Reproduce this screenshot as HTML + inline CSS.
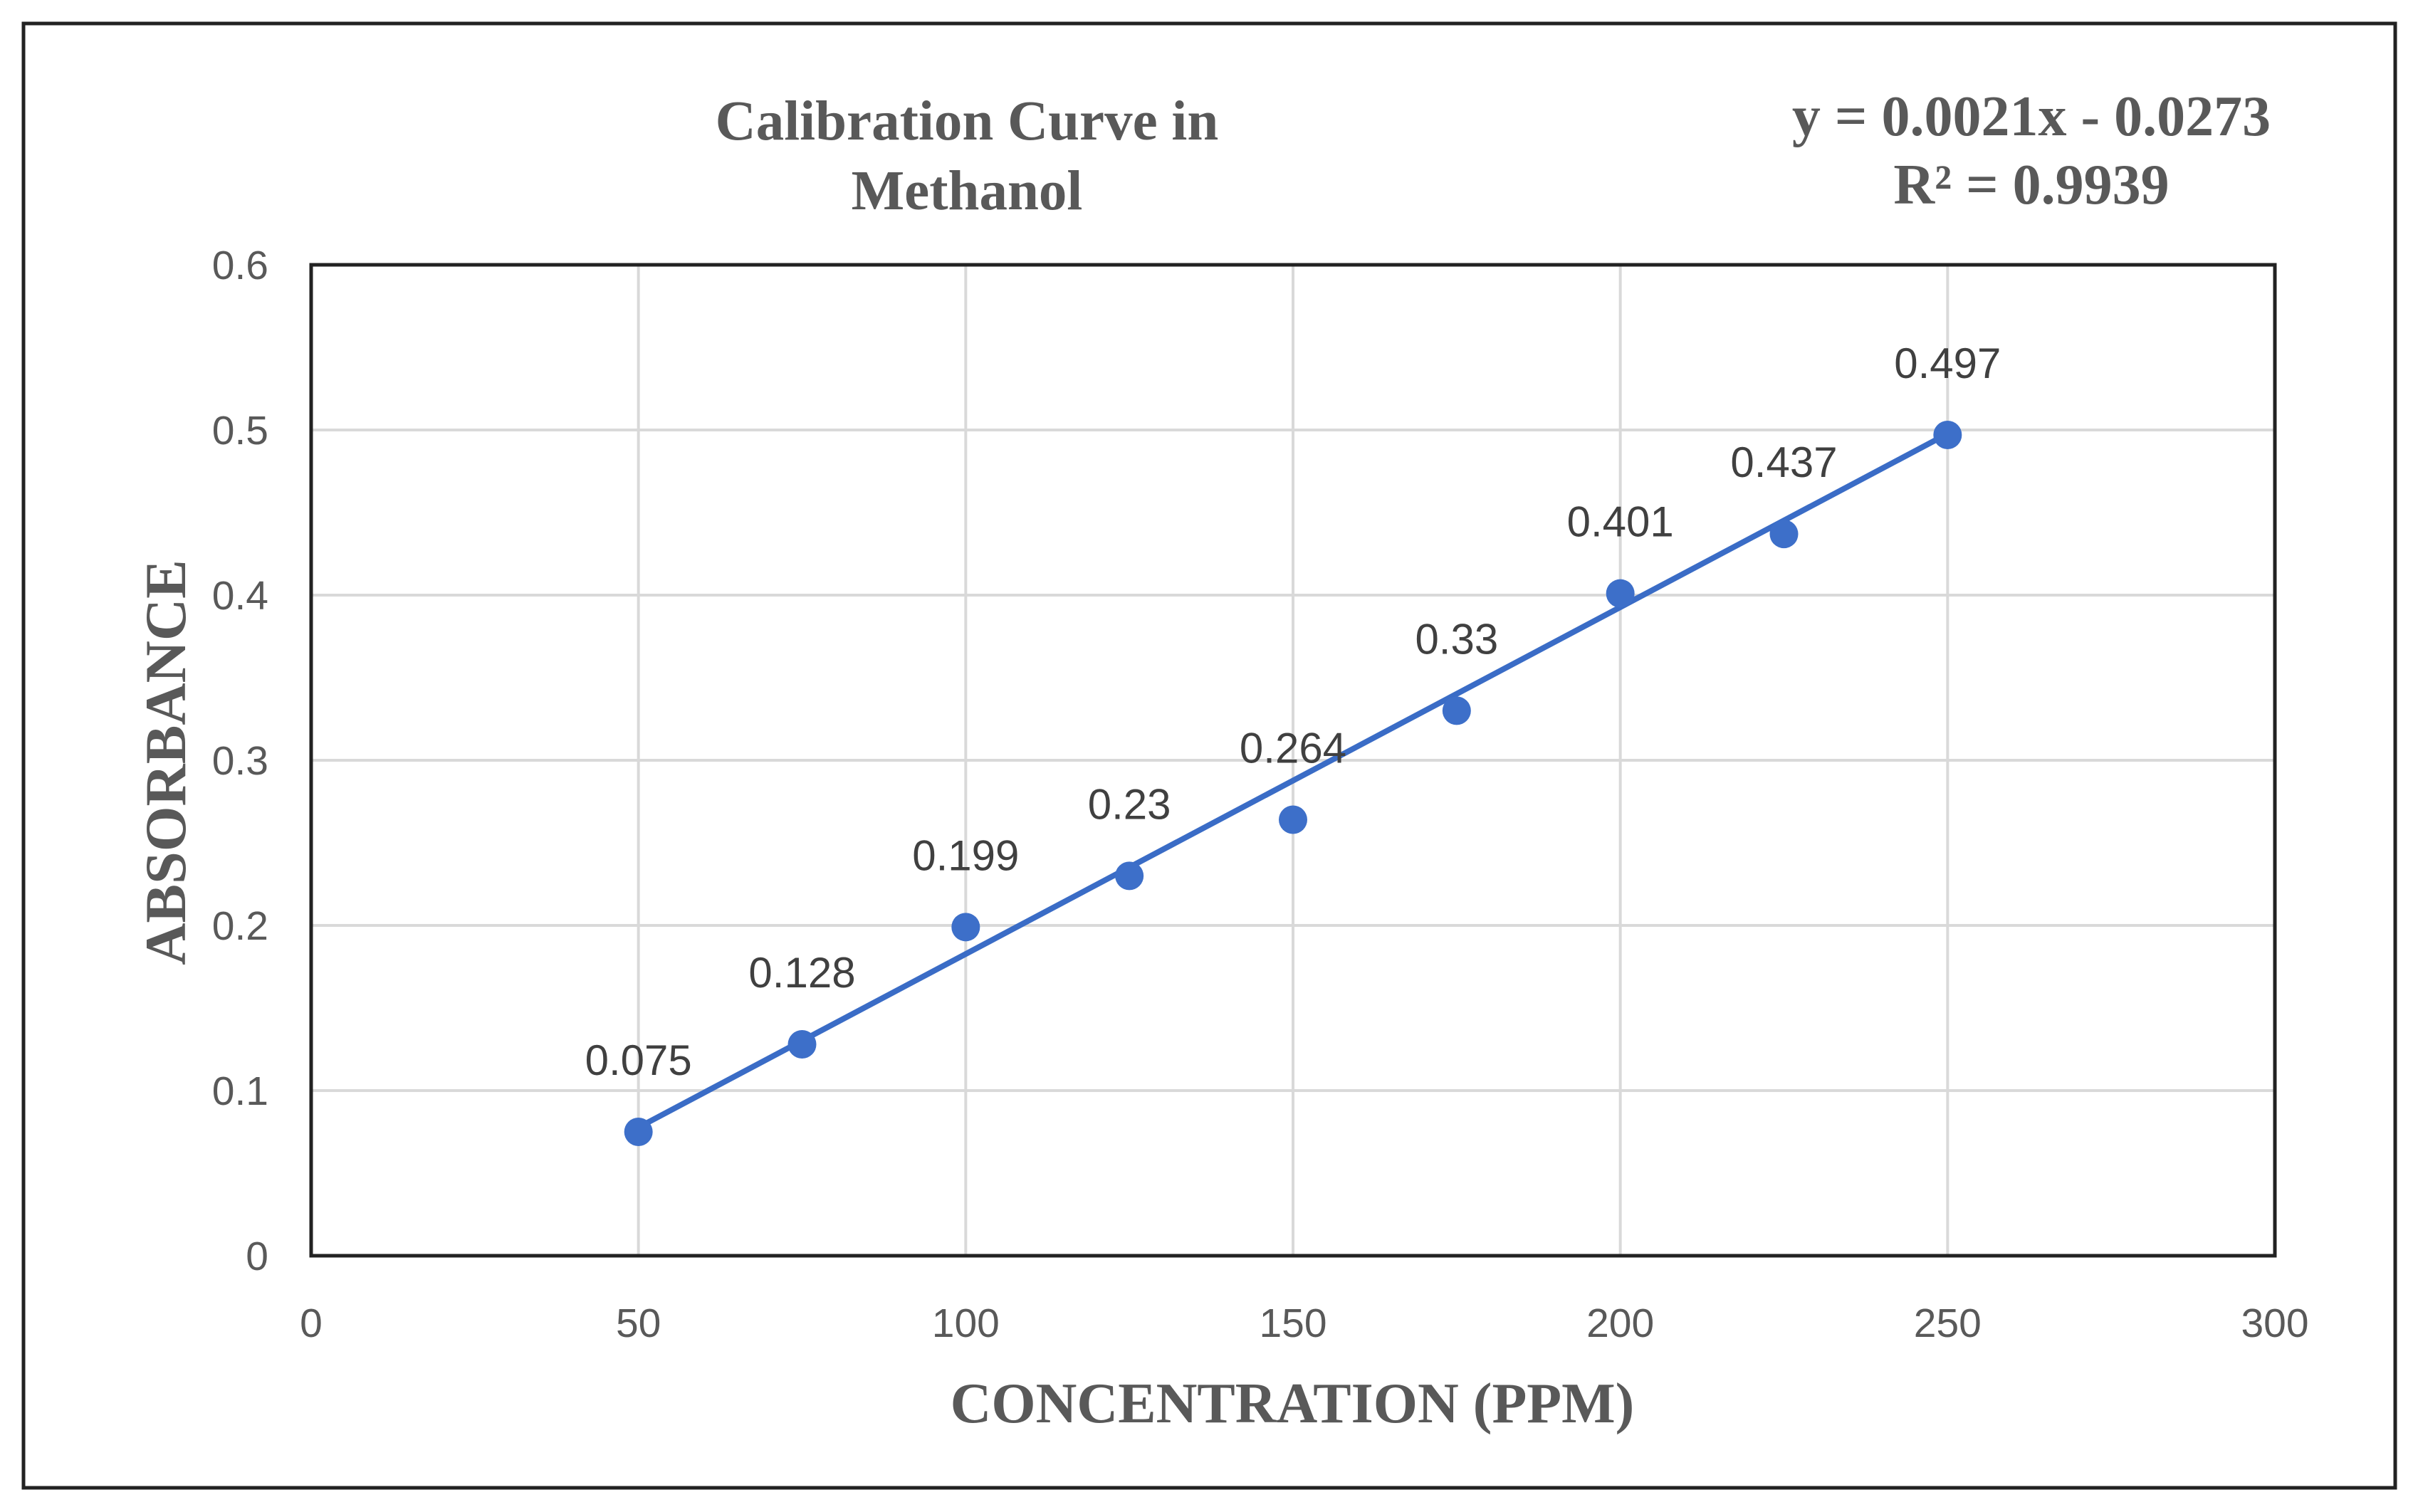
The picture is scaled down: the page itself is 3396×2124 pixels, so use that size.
<!DOCTYPE html>
<html><head><meta charset="utf-8"><style>
html,body{margin:0;padding:0;background:#fff;}
svg{display:block;}
</style></head><body>
<svg id="chart" width="3396" height="2124" viewBox="0 0 3396 2124" xmlns="http://www.w3.org/2000/svg">
<rect x="33" y="33" width="3331" height="2057" fill="#fff" stroke="#222" stroke-width="5"/>
<g id="grid"></g>
<rect x="437" y="372" width="2758" height="1392" fill="none" stroke="#222" stroke-width="5"/>
<g id="ticks"></g>
<g id="series"></g>
<text x="1358" y="196" text-anchor="middle" font-family="Liberation Serif, serif" font-weight="bold" font-size="79" fill="#595959">Calibration Curve in</text>
<text x="1358" y="294" text-anchor="middle" font-family="Liberation Serif, serif" font-weight="bold" font-size="79" fill="#595959">Methanol</text>
<text x="2853" y="190" text-anchor="middle" font-family="Liberation Serif, serif" font-weight="bold" font-size="80" fill="#595959">y = 0.0021x - 0.0273</text>
<text x="2853" y="286" text-anchor="middle" font-family="Liberation Serif, serif" font-weight="bold" font-size="80" fill="#595959">R² = 0.9939</text>
<text transform="translate(260,1071) rotate(-90)" text-anchor="middle" font-family="Liberation Serif, serif" font-weight="bold" font-size="82" fill="#595959">ABSORBANCE</text>
<text x="1815" y="1998" text-anchor="middle" font-family="Liberation Serif, serif" font-weight="bold" font-size="80" fill="#595959">CONCENTRATION (PPM)</text>
</svg>
<script>
const xTicks = [0, 50, 100, 150, 200, 250, 300];
const yTicks = [0, 0.1, 0.2, 0.3, 0.4, 0.5, 0.6];
const yTickLabels = ['0', '0.1', '0.2', '0.3', '0.4', '0.5', '0.6'];
const concentrations = [50, 75, 100, 125, 150, 175, 200, 225, 250];
const absorbances = [0.075, 0.128, 0.199, 0.23, 0.264, 0.33, 0.401, 0.437, 0.497];
const pointLabels = ['0.075', '0.128', '0.199', '0.23', '0.264', '0.33', '0.401', '0.437', '0.497'];
const trendSlope = 0.0021;
const trendIntercept = -0.0273;

const NS = 'http://www.w3.org/2000/svg';
const L = 437, R = 3195, T = 372, B = 1764;
const xMin = 0, xMax = 300, yMin = 0, yMax = 0.6;
function xs(v){ return L + (v - xMin) / (xMax - xMin) * (R - L); }
function ys(v){ return B - (v - yMin) / (yMax - yMin) * (B - T); }
function mk(tag, attrs, parent){ const e = document.createElementNS(NS, tag); for (const k in attrs) e.setAttribute(k, attrs[k]); parent.appendChild(e); return e; }

const grid = document.getElementById('grid');
const ticks = document.getElementById('ticks');
const series = document.getElementById('series');

xTicks.forEach(function(v){
  const g = mk('line', {x1: xs(v), x2: xs(v), y1: T, y2: B, stroke: '#d9d9d9', 'stroke-width': 4}, grid);
  
  
  const t = mk('text', {x: xs(v), y: 1878, 'text-anchor': 'middle', 'font-family': 'Liberation Sans, sans-serif', 'font-size': 57, fill: '#595959'}, ticks);
  t.textContent = String(v);
  
  
});
yTicks.forEach(function(v, i){
  const g = mk('line', {x1: L, x2: R, y1: ys(v), y2: ys(v), stroke: '#d9d9d9', 'stroke-width': 4}, grid);
  
  
  const t = mk('text', {x: 377, y: ys(v) + 20, 'text-anchor': 'end', 'font-family': 'Liberation Sans, sans-serif', 'font-size': 57, fill: '#595959'}, ticks);
  t.textContent = yTickLabels[i];
  
  
});

const x0 = concentrations[0], x1 = concentrations[concentrations.length - 1];
const tl = mk('line', {x1: xs(x0), y1: ys(trendSlope * x0 + trendIntercept), x2: xs(x1), y2: ys(trendSlope * x1 + trendIntercept), stroke: '#3a6cc6', 'stroke-width': 8, 'stroke-linecap': 'round'}, series);



concentrations.forEach(function(c, i){
  const p = mk('circle', {cx: xs(c), cy: ys(absorbances[i]), r: 20, fill: '#3d6fc9'}, series);
  
  
  const t = mk('text', {x: xs(c), y: ys(absorbances[i]) - 80, 'text-anchor': 'middle', 'font-family': 'Liberation Sans, sans-serif', 'font-size': 60, fill: '#404040'}, series);
  t.textContent = pointLabels[i];
  
  
});
</script>
</body></html>
